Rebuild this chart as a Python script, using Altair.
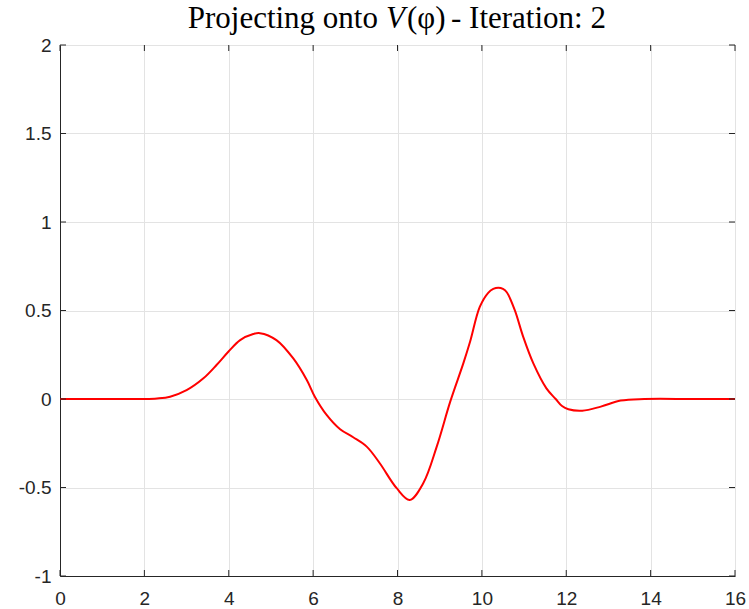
import altair as alt
import pandas as pd

xs = [0, 1, 2, 2.3, 2.61, 3.0, 3.4, 3.71, 3.99, 4.27, 4.58, 4.74, 5.13, 5.53, 5.85, 6.04,
      6.32, 6.64, 6.95, 7.27, 7.58, 7.98, 8.29, 8.61, 8.93, 9.25, 9.56, 9.72, 9.95, 10.15,
      10.27, 10.39, 10.5, 10.59, 10.78, 10.98, 11.22, 11.53, 11.75, 11.9, 12.05, 12.38,
      12.82, 13.29, 13.85, 15, 16]
ys = [0, 0, 0, 0.003, 0.013, 0.05, 0.117, 0.192, 0.267, 0.333, 0.367, 0.372, 0.333, 0.229,
      0.107, 0.013, -0.090, -0.171, -0.216, -0.269, -0.363, -0.504, -0.570, -0.476, -0.269,
      -0.015, 0.201, 0.323, 0.52, 0.600, 0.622, 0.629, 0.622, 0.603, 0.502, 0.351, 0.201,
      0.06, 0.0, -0.04, -0.058, -0.066, -0.043, -0.009, 0, 0, 0]
x_ticks = [0, 2, 4, 6, 8, 10, 12, 14, 16]
y_ticks = [-1, -0.5, 0, 0.5, 1, 1.5, 2]
title_parts = ["Projecting onto", "V", "(φ)", "- Iteration: 2"]

W, H = 675, 531
df = pd.DataFrame({"x": xs, "y": ys})
xt = pd.DataFrame({"t": x_ticks})
yt = pd.DataFrame({"t": y_ticks})
one = pd.DataFrame({"a": [0]})

xscale = alt.Scale(domain=[0, 16], nice=False, zero=False)
yscale = alt.Scale(domain=[-1, 2], nice=False, zero=False)

label_font = "Liberation Sans"
ink = "#262626"
grid = "#e3e3e3"

line = alt.Chart(df).mark_line(color="#ff0000", strokeWidth=2, interpolate="catmull-rom").encode(
    x=alt.X("x:Q", scale=xscale, axis=alt.Axis(
        values=x_ticks, title=None, grid=True, gridColor=grid, gridWidth=1,
        tickSize=0, labelPadding=13, labelFont=label_font, labelFontSize=19,
        labelColor=ink, domainColor=ink, labelFlush=False, labelExpr="datum.value + ''")),
    y=alt.Y("y:Q", scale=yscale, axis=alt.Axis(
        values=y_ticks, title=None, grid=True, gridColor=grid, gridWidth=1,
        tickSize=0, labelPadding=9, labelFont=label_font, labelFontSize=19,
        labelColor=ink, domainColor=ink, labelFlush=False, labelExpr="datum.value + ''")),
)

xtick_bot = alt.Chart(xt).mark_rule(color=ink, strokeWidth=1).encode(
    x=alt.X("t:Q", scale=xscale), y=alt.value(H), y2=alt.value(H - 6))
xtick_top = alt.Chart(xt).mark_rule(color=ink, strokeWidth=1).encode(
    x=alt.X("t:Q", scale=xscale), y=alt.value(0), y2=alt.value(6))
ytick_left = alt.Chart(yt).mark_rule(color=ink, strokeWidth=1).encode(
    y=alt.Y("t:Q", scale=yscale), x=alt.value(0), x2=alt.value(6))
ytick_right = alt.Chart(yt).mark_rule(color=ink, strokeWidth=1).encode(
    y=alt.Y("t:Q", scale=yscale), x=alt.value(W), x2=alt.value(W - 6))

tfont = "Liberation Serif"
tsize = 31
ty = -17
t1 = alt.Chart(one).mark_text(font=tfont, fontSize=tsize, align="right", baseline="alphabetic",
                              color="black").encode(
    text=alt.value(title_parts[0]), x=alt.value(318), y=alt.value(ty))
t2 = alt.Chart(one).mark_text(font=tfont, fontSize=tsize, fontStyle="italic", align="left",
                              baseline="alphabetic", color="black").encode(
    text=alt.value(title_parts[1]), x=alt.value(326), y=alt.value(ty))
t3 = alt.Chart(one).mark_text(font=tfont, fontSize=tsize, align="left", baseline="alphabetic",
                              color="black").encode(
    text=alt.value(title_parts[2]), x=alt.value(347), y=alt.value(ty))
t4 = alt.Chart(one).mark_text(font=tfont, fontSize=tsize, align="left", baseline="alphabetic",
                              color="black").encode(
    text=alt.value(title_parts[3]), x=alt.value(391), y=alt.value(ty))

chart = alt.layer(line, xtick_bot, xtick_top, ytick_left, ytick_right, t1, t2, t3, t4).properties(
    width=W, height=H,
    autosize=alt.AutoSizeParams(type="none"),
    padding={"left": 60, "top": 45, "right": 14, "bottom": 33},
).configure_view(stroke=ink, strokeWidth=1).configure(background="white")

chart.save("out.html", embed_options={"renderer": "svg", "actions": False})
